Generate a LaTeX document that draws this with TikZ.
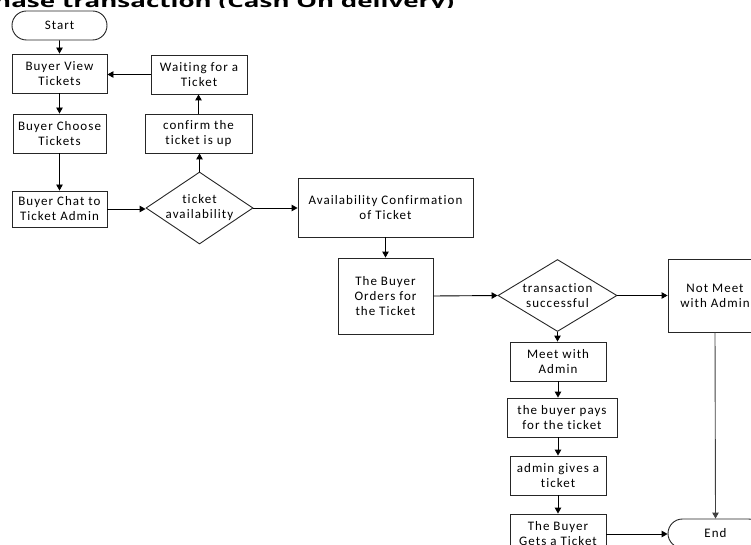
\documentclass[tikz,border=0pt]{standalone}
\usepackage{fontspec}
\setmainfont{Carlito}
\newfontfamily\boxfont[LetterSpace=8,Ligatures=NoCommon]{Carlito}
\newfontfamily\headfont{Open Sans}
\usetikzlibrary{shapes.geometric,shapes.misc,arrows.meta}

\tikzset{
  flowbox/.style={draw=black!85, line width=0.9pt, rectangle, align=center,
    inner sep=0pt, font=\boxfont\fontsize{13}{15}\selectfont},
  terminal/.style={flowbox, rounded rectangle, minimum width=95pt, minimum height=29pt},
  decision/.style={flowbox, diamond, aspect=1.5},
  arr/.style={draw=black, line width=0.9pt, -{Triangle[length=6pt,width=6.5pt]}},
}

\begin{document}
\begin{tikzpicture}[x=1pt,y=-1pt]
\useasboundingbox (0,0) rectangle (751,545);
\clip (0,0) rectangle (751,545);

% heading, only a thin band of it shows above the chart
\begin{scope}
  \clip (0,0) rectangle (751,7.5);
  \node[anchor=base west, inner sep=0pt, font=\headfont\bfseries\fontsize{26}{30}\selectfont]
    (title) at (-6,7.5) {\scalebox{1}[0.65]{hase transaction (Cash On delivery)}};
\end{scope}

% left column
\node[terminal] (start) at (59.5,25.5) {Start};
\node[flowbox, minimum width=95pt, minimum height=39pt] (view) at (59.5,73.5) {Buyer View\\Tickets};
\node[flowbox, minimum width=93pt, minimum height=39pt] (choose) at (59.5,133.5) {Buyer Choose\\Tickets};
\node[flowbox, minimum width=95pt, minimum height=36pt] (chat) at (59.5,209) {Buyer Chat to\\Ticket Admin};

% availability loop
\node[flowbox, minimum width=96pt, minimum height=39pt] (wait) at (199,74.5) {Waiting for a\\Ticket};
\node[flowbox, minimum width=107pt, minimum height=39pt] (confirm) at (198.5,133.5) {confirm the\\ticket is up};
\node[decision, minimum width=107pt, minimum height=72pt] (avail) at (199.5,208) {ticket\\availability};

% order
\node[flowbox, minimum width=175pt, minimum height=59pt] (conf) at (385.5,207.5) {Availability Confirmation\\of Ticket};
\node[flowbox, minimum width=95pt, minimum height=76pt] (orders) at (385.5,296) {The Buyer\\Orders for\\the Ticket};
\node[decision, minimum width=119pt, minimum height=72pt] (trans) at (557.5,295.5) {transaction\\successful};
\node[flowbox, minimum width=94pt, minimum height=73pt] (notmeet) at (715,295.5) {Not Meet\\with Admin};

% payment
\node[flowbox, minimum width=96pt, minimum height=39pt] (meet) at (558,361.5) {Meet with\\Admin};
\node[flowbox, minimum width=110pt, minimum height=39pt] (pays) at (562,417.5) {the buyer pays\\for the ticket};
\node[flowbox, minimum width=96pt, minimum height=39pt] (gives) at (558,475.5) {admin gives a\\ticket};
\node[flowbox, minimum width=96pt, minimum height=40pt] (gets) at (558,534) {The Buyer\\Gets a Ticket};
\node[terminal] (end) at (715.5,533.5) {End};

% connectors
\draw[arr] (start) -- (view);
\draw[arr] (wait.west) -- (wait.west -| view.east);
\draw[arr] (view) -- (choose);
\draw[arr] (choose) -- (chat);
\draw[arr] (chat.east) -- (chat.east -| avail.west);
\draw[arr] (avail.north) -- (avail.north |- confirm.south);
\draw[arr] (confirm.north) -- (confirm.north |- wait.south);
\draw[arr] (avail.east) -- (avail.east -| conf.west);
\draw[arr] (conf) -- (orders);
\draw[arr] (orders.east) -- (trans.west);
\draw[arr] (trans.east) -- (notmeet.west);
\draw[arr] (trans.south) -- (trans.south |- meet.north);
\draw[arr] (meet.south) -- (meet.south |- pays.north);
\draw[arr] (meet.south |- pays.south) -- (meet.south |- gives.north);
\draw[arr] (gives) -- (gets);
\draw[arr] (gets.east) -- (gets.east -| end.west);
\draw[arr, draw=black!75] (notmeet.south) -- (end.north);
\end{tikzpicture}
\end{document}
